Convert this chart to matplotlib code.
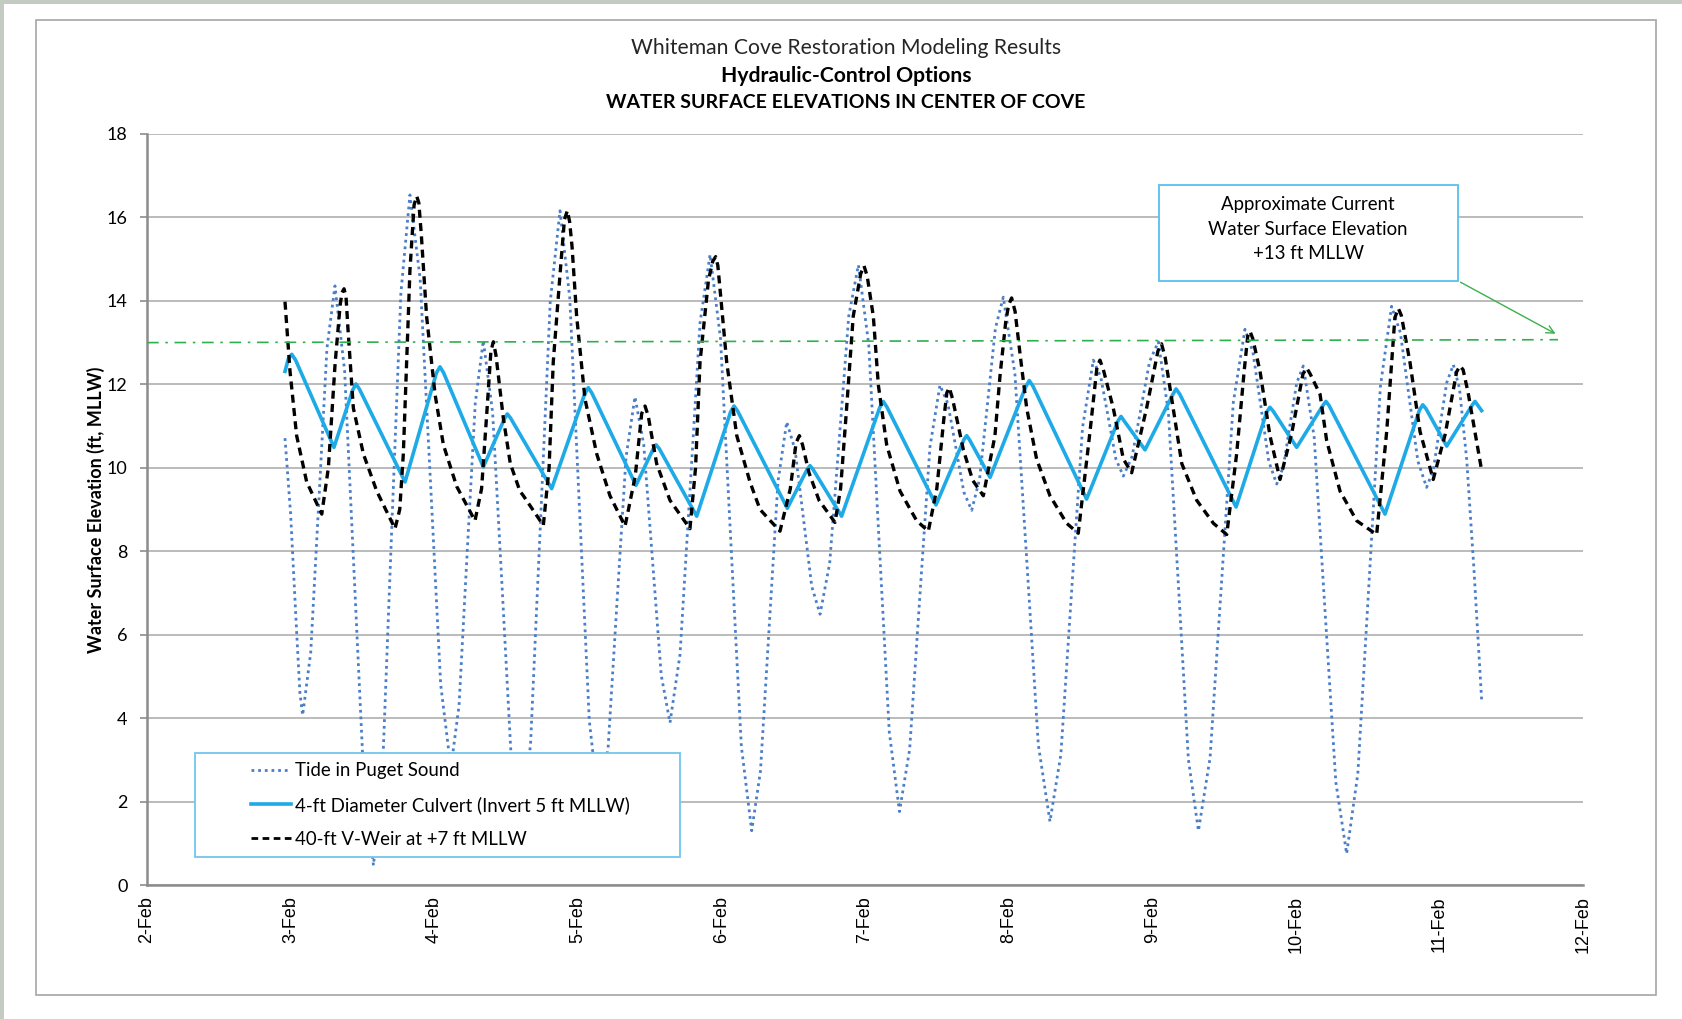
import matplotlib
matplotlib.use("Agg")
import matplotlib.pyplot as plt
from matplotlib.patches import Rectangle
from matplotlib.lines import Line2D

# x values are days after 2-Feb 00:00
tide_t = [0.961, 1.00, 1.04, 1.065, 1.084,
          1.140, 1.197, 1.253, 1.309,
          1.376, 1.443, 1.510, 1.577,
          1.641, 1.704, 1.768, 1.831,
          1.902, 1.974, 2.045, 2.116,
          2.173, 2.229, 2.286, 2.342,
          2.407, 2.473, 2.538, 2.603,
          2.671, 2.740, 2.808, 2.876,
          2.944, 3.012, 3.080, 3.148,
          3.211, 3.273, 3.336, 3.398,
          3.459, 3.520, 3.581, 3.642,
          3.712, 3.782, 3.851, 3.921,
          3.994, 4.066, 4.139, 4.211,
          4.272, 4.333, 4.394, 4.455,
          4.513, 4.571, 4.629, 4.687,
          4.754, 4.821, 4.887, 4.954,
          5.026, 5.097, 5.169, 5.240,
          5.311, 5.381, 5.452, 5.522,
          5.577, 5.633, 5.688, 5.743,
          5.798, 5.853, 5.908, 5.963,
          6.044, 6.126, 6.207, 6.288,
          6.364, 6.439, 6.515, 6.590,
          6.642, 6.695, 6.747, 6.799,
          6.860, 6.921, 6.982, 7.043,
          7.113, 7.183, 7.252, 7.322,
          7.403, 7.484, 7.565, 7.646,
          7.701, 7.757, 7.812, 7.867,
          7.913, 7.960, 8.006, 8.052,
          8.128, 8.203, 8.279, 8.354,
          8.432, 8.511, 8.589, 8.667,
          8.728, 8.789, 8.850, 8.911,
          8.958, 9.004, 9.051, 9.097,
          9.14, 9.19, 9.24, 9.294]
tide_v = [10.71, 8.9, 6.2, 4.6, 4.07,
          5.57, 9.22, 12.86, 14.36,
          12.33, 7.42, 2.50, 0.47,
          2.82, 8.51, 14.19, 16.54,
          14.53, 9.67, 4.81, 2.80,
          4.30, 7.93, 11.55, 13.05,
          11.32, 7.13, 2.93, 1.20,
          3.38, 8.68, 13.98, 16.16,
          14.07, 9.01, 3.94, 1.85,
          3.29, 6.78, 10.26, 11.70,
          10.56, 7.80, 5.03, 3.89,
          5.53, 9.50, 13.47, 15.11,
          13.09, 8.21, 3.32, 1.30,
          2.73, 6.20, 9.67, 11.10,
          10.43, 8.80, 7.16, 6.49,
          7.71, 10.68, 13.64, 14.86,
          12.95, 8.31, 3.67, 1.76,
          3.25, 6.87, 10.49, 11.98,
          11.54, 10.48, 9.42, 8.98,
          9.73, 11.54, 13.34, 14.09,
          12.25, 7.81, 3.36, 1.52,
          3.13, 7.05, 10.97, 12.58,
          12.17, 11.19, 10.21, 9.80,
          10.27, 11.41, 12.55, 13.02,
          11.31, 7.16, 3.01, 1.30,
          3.05, 7.31, 11.57, 13.32,
          12.78, 11.47, 10.15, 9.61,
          10.02, 11.03, 12.03, 12.44,
          10.73, 6.60, 2.46, 0.75,
          2.67, 7.31, 11.95, 13.87,
          13.24, 11.70, 10.16, 9.53,
          9.96, 11.00, 12.04, 12.47,
          11.9, 10.2, 7.6, 4.44]

culvert_t = [0.961, 0.985, 1.008, 1.035, 1.302, 1.432, 1.455, 1.480, 1.797, 2.015,
             2.040, 2.065, 2.342, 2.487, 2.509, 2.532, 2.818, 3.048, 3.073, 3.098,
             3.405, 3.525, 3.545, 3.567, 3.828, 4.063, 4.088, 4.113, 4.459, 4.597,
             4.617, 4.638, 4.837, 5.102, 5.127, 5.152, 5.494, 5.688, 5.708, 5.728,
             5.871, 6.119, 6.144, 6.169, 6.543, 6.763, 6.783, 6.803, 6.950, 7.141,
             7.166, 7.191, 7.584, 7.798, 7.820, 7.842, 8.006, 8.188, 8.210, 8.232,
             8.621, 8.861, 8.884, 8.906, 9.051, 9.228, 9.248, 9.294]
culvert_v = [12.31, 12.62, 12.72, 12.58, 10.49, 11.86, 12.01, 11.88, 9.66, 12.27,
             12.42, 12.28, 10.02, 11.16, 11.29, 11.19, 9.50, 11.77, 11.92, 11.79,
             9.58, 10.45, 10.55, 10.46, 8.84, 11.33, 11.48, 11.36, 9.03, 9.96,
             10.05, 9.96, 8.84, 11.44, 11.59, 11.46, 9.11, 10.67, 10.77, 10.67,
             9.77, 11.94, 12.09, 11.96, 9.25, 11.13, 11.23, 11.13, 10.43, 11.74,
             11.89, 11.77, 9.06, 11.34, 11.45, 11.36, 10.49, 11.49, 11.59, 11.49,
             8.89, 11.38, 11.51, 11.42, 10.52, 11.50, 11.59, 11.37]

weir_t = [0.961, 0.996, 1.042, 1.112, 1.217, 1.263, 1.310, 1.345, 1.358, 1.372,
          1.386, 1.400, 1.437, 1.507, 1.600, 1.727, 1.760, 1.785, 1.831, 1.860,
          1.878, 1.893, 1.910, 1.947, 2.006, 2.064, 2.157, 2.284, 2.330, 2.370,
          2.395, 2.412, 2.430, 2.481, 2.530, 2.597, 2.621, 2.760, 2.800, 2.829,
          2.880, 2.907, 2.927, 2.943, 2.960, 2.992, 3.050, 3.132, 3.224, 3.329,
          3.400, 3.445, 3.468, 3.490, 3.549, 3.642, 3.781, 3.820, 3.851, 3.910,
          3.940, 3.960, 3.975, 3.990, 4.037, 4.107, 4.199, 4.269, 4.408, 4.480,
          4.520, 4.543, 4.565, 4.610, 4.680, 4.791, 4.830, 4.872, 4.918, 4.970,
          4.993, 5.015, 5.058, 5.093, 5.151, 5.244, 5.360, 5.441, 5.500, 5.550,
          5.570, 5.587, 5.610, 5.685, 5.750, 5.824, 5.905, 5.940, 5.980, 6.000,
          6.021, 6.045, 6.079, 6.126, 6.195, 6.288, 6.404, 6.485, 6.567, 6.615,
          6.636, 6.660, 6.729, 6.799, 6.857, 6.961, 7.040, 7.065, 7.090, 7.136,
          7.206, 7.310, 7.426, 7.519, 7.588, 7.640, 7.665, 7.681, 7.700, 7.751,
          7.820, 7.890, 7.970, 8.050, 8.076, 8.100, 8.169, 8.215, 8.308, 8.424,
          8.563, 8.633, 8.690, 8.714, 8.735, 8.795, 8.865, 8.957, 9.040, 9.120,
          9.143, 9.165, 9.200, 9.294]
weir_v = [13.98, 12.31, 10.77, 9.66, 8.89, 10.0, 12.5, 13.9, 14.2, 14.29,
          14.1, 13.3, 11.43, 10.33, 9.44, 8.54, 9.0, 10.33, 14.73, 16.3,
          16.51, 16.35, 15.6, 13.63, 11.76, 10.55, 9.55, 8.73, 9.5, 11.5,
          12.8, 13.02, 12.7, 11.2, 10.1, 9.44, 9.33, 8.62, 10.0, 12.53,
          14.8, 15.95, 16.16, 15.9, 15.3, 13.63, 11.65, 10.33, 9.33, 8.60,
          9.8, 11.3, 11.48, 11.25, 10.10, 9.22, 8.54, 10.0, 12.53, 14.5,
          14.95, 15.06, 14.85, 14.3, 12.53, 10.77, 9.66, 9.00, 8.48, 9.5,
          10.6, 10.77, 10.55, 9.88, 9.22, 8.69, 9.5, 11.43, 13.63, 14.65,
          14.84, 14.6, 13.63, 11.98, 10.55, 9.44, 8.73, 8.48, 9.5, 11.2,
          11.8, 11.92, 11.65, 10.43, 9.7, 9.33, 10.77, 12.2, 13.5, 13.9,
          14.07, 13.75, 12.75, 11.43, 10.21, 9.33, 8.67, 8.43, 10.87, 12.4,
          12.58, 12.35, 11.43, 10.21, 9.88, 11.43, 12.8, 12.97, 12.65, 11.65,
          10.10, 9.22, 8.67, 8.40, 10.33, 12.3, 13.15, 13.27, 13.1, 12.31,
          10.77, 9.72, 10.8, 12.25, 12.39, 12.25, 11.76, 10.65, 9.44, 8.73,
          8.40, 10.87, 13.6, 13.82, 13.65, 12.53, 10.87, 9.72, 10.8, 12.3,
          12.44, 12.35, 11.8, 9.94]

current_t = [0.0, 9.826]
current_v = [13.0, 13.07]

day_labels = ["2-Feb", "3-Feb", "4-Feb", "5-Feb", "6-Feb", "7-Feb",
              "8-Feb", "9-Feb", "10-Feb", "11-Feb", "12-Feb"]

calibri = ["Lato", "DejaVu Sans"]

fig = plt.figure(figsize=(16.83, 10.19), dpi=100)
fig.patch.set_facecolor("white")

# outer sheet edge and chart frame
fig.add_artist(Rectangle((0, 1 - 4 / 1019), 1, 4 / 1019, transform=fig.transFigure,
                         facecolor="#c3cbc2", edgecolor="none"))
fig.add_artist(Rectangle((0, 0), 4 / 1683, 1, transform=fig.transFigure,
                         facecolor="#c3cbc2", edgecolor="none"))
fig.add_artist(Rectangle((36 / 1683, 1 - 995 / 1019), 1620 / 1683, 975 / 1019,
                         transform=fig.transFigure, facecolor="none",
                         edgecolor="#a6a6a6", linewidth=1.2))

ax = fig.add_axes([147 / 1683, 134 / 1019, 1436 / 1683, 751 / 1019])

ax.plot(tide_t, tide_v, color="#4a7ec6", linewidth=2.0,
        linestyle=(0, (1, 1.4)), label="Tide in Puget Sound", zorder=3)
ax.plot(culvert_t, culvert_v, color="#1eaae6", linewidth=2.6,
        solid_joinstyle="round", label="4-ft Diameter Culvert (Invert 5 ft MLLW)", zorder=3)
ax.plot(weir_t, weir_v, color="black", linewidth=2.4,
        linestyle=(0, (2.4, 1.6)), label="40-ft V-Weir at +7 ft MLLW", zorder=3)
ax.plot(current_t, current_v, color="#2eb04f", linewidth=1.2,
        linestyle=(0, (7, 4, 1.5, 4)), zorder=3)

ax.set_xlim(0, 10)
ax.set_ylim(0, 18)
ax.set_xticks(range(11))
ax.set_xticklabels(day_labels, rotation=90, family=["Liberation Sans"], fontsize=13)
ax.set_yticks(range(0, 19, 2))
ax.tick_params(axis="x", length=0, pad=8, colors="black")
ax.tick_params(axis="y", length=5, width=1.2, color="#8c8c8c", pad=9, labelsize=13)
for lab in ax.get_yticklabels():
    lab.set_family(calibri)

ax.grid(axis="y", color="#b5b5b5", linewidth=1.3)
ax.set_axisbelow(True)
for s in ["top", "right"]:
    ax.spines[s].set_visible(False)
for s in ["left", "bottom"]:
    ax.spines[s].set_color("#8c8c8c")
    ax.spines[s].set_linewidth(1.8)

ax.set_ylabel("Water Surface Elevation (ft, MLLW)", family=calibri, fontsize=13,
              fontweight="bold", labelpad=1.5)

# titles
fig.text(846 / 1683, 1 - 48 / 1019, "Whiteman Cove Restoration Modeling Results",
         ha="center", va="center", family=calibri, fontsize=15.2, color="#262626")
fig.text(846 / 1683, 1 - 76 / 1019, "Hydraulic-Control Options",
         ha="center", va="center", family=calibri, fontsize=15.2, fontweight="bold")
fig.text(846 / 1683, 1 - 103 / 1019, "WATER SURFACE ELEVATIONS IN CENTER OF COVE",
         ha="center", va="center", family=calibri, fontsize=14, fontweight="bold")

# legend box
ax.add_patch(Rectangle((48 / 1436, 28 / 751), 485 / 1436, 104 / 751, transform=ax.transAxes,
                       facecolor="white", edgecolor="#72c6ee", linewidth=1.3,
                       zorder=4, clip_on=False))
handles = [Line2D([], [], color="#4a7ec6", linewidth=2.0, linestyle=(0, (1, 1.4))),
           Line2D([], [], color="#1eaae6", linewidth=2.6),
           Line2D([], [], color="black", linewidth=2.0, linestyle=(0, (2.4, 1.6)))]
labels = ["Tide in Puget Sound", "4-ft Diameter Culvert (Invert 5 ft MLLW)",
          "40-ft V-Weir at +7 ft MLLW"]
leg = ax.legend(handles, labels, loc="center left", bbox_to_anchor=(104 / 1436, 80 / 751),
                frameon=False, borderpad=0, borderaxespad=0, handlelength=2.15,
                handletextpad=0.22, labelspacing=0.9, prop={"family": calibri, "size": 13.4})
leg.set_zorder(5)

# annotation box
ax.add_patch(Rectangle((7.047, 14.48), 2.083, 2.30, facecolor="white",
                       edgecolor="#5bbfec", linewidth=1.3, zorder=4))
ax.text(8.085, 15.72, "Approximate Current\nWater Surface Elevation\n+13 ft MLLW",
        ha="center", va="center", multialignment="center", family=calibri,
        fontsize=13.4, linespacing=1.55, zorder=5)
ax.annotate("", xy=(9.826, 13.18), xytext=(9.13, 14.48),
            arrowprops=dict(arrowstyle="->", color="#3cb04a", linewidth=1.0,
                            mutation_scale=14), zorder=5)

fig.savefig("out.png", dpi=100)
